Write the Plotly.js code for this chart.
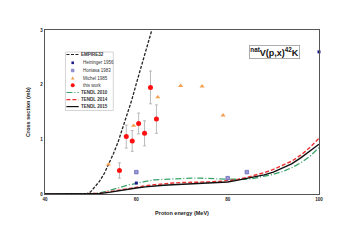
<!DOCTYPE html>
<html><head><meta charset="utf-8">
<script src="https://cdn.plot.ly/plotly-3.0.1.min.js"></script>
<style>html,body{margin:0;padding:0;background:#fff}#c{width:351px;height:248px}</style>
</head><body><div id="c"></div>
<script>
// ---- data ----
const empireE = [40, 45, 49, 50, 51, 52, 53, 54, 55, 56, 57, 58, 59, 60, 61, 62, 63, 64, 65, 66];
const empireXS = [0, 0, 0, 0.04, 0.13, 0.24, 0.38, 0.55, 0.74, 0.95, 1.2, 1.45, 1.72, 2.02, 2.3, 2.6, 2.87, 3.15, 3.45, 3.75];

const tendlE = [40, 44, 48, 50, 52, 54, 56, 58, 60, 62, 64, 66, 68, 70, 72, 74, 76, 78, 80, 82, 84, 86, 88, 90, 92, 94, 96, 98, 100];
const tendl2010 = [0, 0, 0, 0, 0.02, 0.06, 0.11, 0.16, 0.2, 0.23, 0.26, 0.27, 0.28, 0.29, 0.29, 0.29, 0.28, 0.28, 0.27, 0.27, 0.27, 0.29, 0.32, 0.36, 0.41, 0.48, 0.57, 0.69, 0.85];
const tendl2014 = [0, 0, 0, 0, 0.01, 0.04, 0.07, 0.1, 0.13, 0.15, 0.17, 0.19, 0.2, 0.21, 0.21, 0.22, 0.22, 0.23, 0.24, 0.26, 0.3, 0.34, 0.39, 0.45, 0.52, 0.6, 0.71, 0.85, 1.02];
const tendl2015 = [0, 0, 0, 0, 0.01, 0.03, 0.06, 0.09, 0.11, 0.13, 0.15, 0.16, 0.17, 0.18, 0.19, 0.2, 0.2, 0.21, 0.22, 0.25, 0.28, 0.31, 0.35, 0.4, 0.47, 0.55, 0.66, 0.78, 0.91];

const heinE = [60, 100];
const heinXS = [0.2, 2.6];
const honE = [60, 80, 84.2];
const honXS = [0.4, 0.29, 0.4];
const michE = [53.9, 59.4, 64.7, 69.7, 74.4, 79.0];
const michXS = [0.54, 1.25, 1.77, 1.98, 1.97, 1.44];
const workE = [56.3, 57.8, 59.1, 60.5, 61.8, 63.1, 64.4];
const workXS = [0.43, 1.05, 0.97, 1.29, 1.11, 1.95, 1.37];
const workErr = [0.14, 0.21, 0.19, 0.19, 0.23, 0.30, 0.26];

const xTicks = [40, 60, 80, 100];
const yTicks = [0, 1, 2, 3];
const legendNames = ['EMPIRE32', 'Heininger 1956', 'Honiasa 1983', 'Michel 1985', 'this work', 'TENDL 2010', 'TENDL 2014', 'TENDL 2015'];

// ---- layout helpers (pixel -> paper) ----
const L = 44.5, R = 319.3, T = 30, B = 194;
const px = x => (x - L) / (R - L);
const py = y => (B - y) / (B - T);

const C = {
  empire: '#222222', hein: '#1a1a8c', hon: '#6a6ab8', mich: '#f4a050',
  work: '#ff1010', t10: '#3aa36a', t14: '#ee3030', t15: '#111111'
};

const traces = [
  {x: tendlE, y: tendl2010, mode: 'lines', line: {color: C.t10, width: 1.3, dash: '6px,2px,1px,2px'}},
  {x: tendlE, y: tendl2014, mode: 'lines', line: {color: C.t14, width: 1.4, dash: '4px,2px'}},
  {x: tendlE, y: tendl2015, mode: 'lines', line: {color: C.t15, width: 1.4}},
  {x: empireE, y: empireXS, mode: 'lines', line: {color: C.empire, width: 1.3, dash: '3px,1.5px'}},
  {x: heinE, y: heinXS, mode: 'markers', cliponaxis: false, marker: {symbol: 'square', size: 3, color: C.hein}},
  {x: honE, y: honXS, mode: 'markers', cliponaxis: false, marker: {symbol: 'square', size: 3.5, color: '#9a9ad8', line: {color: C.hon, width: 0.8}}},
  {x: michE, y: michXS, mode: 'markers', cliponaxis: false, marker: {symbol: 'triangle-up', size: 4.5, color: C.mich}},
  {x: workE, y: workXS, mode: 'markers', cliponaxis: false,
   error_y: {type: 'data', array: workErr, visible: true, color: '#aaaaaa', thickness: 0.8, width: 1.5},
   marker: {symbol: 'circle', size: 5, color: C.work}}
];

// manual compact legend
const shapes = [];
const annotations = [];
shapes.push({type: 'rect', xref: 'paper', yref: 'paper', x0: px(65), x1: px(113), y0: py(52), y1: py(110.5),
  line: {color: '#cccccc', width: 0.8}, fillcolor: '#ffffff', layer: 'above'});
const rows = [54.5, 62.8, 70.5, 78, 85.2, 92.5, 99.7, 106.6];
const lx0 = 66, lx1 = 78.3, mx = 72.3;
const lineStyles = {0: {color: C.empire, dash: '3px,1.5px', width: 1.2}, 5: {color: C.t10, dash: '6px,2px,1px,2px', width: 1.2},
  6: {color: C.t14, dash: '4px,2px', width: 1.2}, 7: {color: C.t15, dash: 'solid', width: 1.2}};
rows.forEach((ry, i) => {
  if (lineStyles[i]) {
    shapes.push({type: 'line', xref: 'paper', yref: 'paper', x0: px(lx0), x1: px(lx1), y0: py(ry), y1: py(ry), line: lineStyles[i], layer: 'above'});
  }
  annotations.push({xref: 'paper', yref: 'paper', x: px(lineStyles[i] ? 79 : 80.5), y: py(ry), xanchor: 'left', yanchor: 'middle',
    text: lineStyles[i] ? '<b>' + legendNames[i] + '</b>' : legendNames[i], showarrow: false,
    font: {size: 4.5, color: '#333', family: 'Liberation Sans, Arial'}});
});
// legend markers
const s = 1.3;
shapes.push({type: 'rect', xref: 'paper', yref: 'paper', x0: px(mx - s), x1: px(mx + s), y0: py(rows[1] + s), y1: py(rows[1] - s), fillcolor: C.hein, line: {width: 0}, layer: 'above'});
shapes.push({type: 'rect', xref: 'paper', yref: 'paper', x0: px(mx - s), x1: px(mx + s), y0: py(rows[2] + s), y1: py(rows[2] - s), fillcolor: '#9a9ad8', line: {color: C.hon, width: 0.6}, layer: 'above'});
shapes.push({type: 'path', xref: 'paper', yref: 'paper', layer: 'above',
  path: `M${px(mx - 1.8)},${py(rows[3] + 1.5)} L${px(mx + 1.8)},${py(rows[3] + 1.5)} L${px(mx)},${py(rows[3] - 1.8)} Z`, fillcolor: C.mich, line: {width: 0}});
shapes.push({type: 'circle', xref: 'paper', yref: 'paper', x0: px(mx - 2), x1: px(mx + 2), y0: py(rows[4] + 2), y1: py(rows[4] - 2), fillcolor: C.work, line: {width: 0}, layer: 'above'});

// reaction label box
annotations.push({xref: 'paper', yref: 'paper', x: px(275), y: py(51.5), xanchor: 'center', yanchor: 'middle', showarrow: false,
  text: '<b><sup>nat</sup>V(p,x)<sup>42</sup>K</b>', font: {size: 9, color: '#111', family: 'Liberation Sans, Arial'},
  bordercolor: '#999', borderwidth: 0.8, borderpad: 0.5, bgcolor: '#fff'});

const layout = {
  width: 351, height: 248,
  margin: {l: L, r: 351 - R, t: T, b: 248 - B, pad: 0},
  paper_bgcolor: '#fff', plot_bgcolor: '#fff',
  showlegend: false,
  font: {family: 'Liberation Sans, Arial', size: 5, color: '#222'},
  xaxis: {range: [40, 100], tickvals: xTicks, ticktext: xTicks.map(v => '<b>' + v + '</b>'), showgrid: false, zeroline: false,
    showline: true, mirror: true, linecolor: '#555', linewidth: 1.3, ticks: '', ticklen: 0, tickfont: {size: 4.5},
    title: {text: '<b>Proton energy (MeV)</b>', font: {size: 5.5, color: '#222'}, standoff: 10}},
  yaxis: {range: [0, 3], tickvals: yTicks, ticktext: yTicks.map(v => '<b>' + v + '</b>'), showgrid: false, zeroline: false,
    showline: true, mirror: true, linecolor: '#555', linewidth: 1.3, ticks: '', ticklen: 0, tickfont: {size: 4.5},
    title: {text: '<b>Cross section (mb)</b>', font: {size: 5.5, color: '#222'}, standoff: 9}},
  shapes: shapes,
  annotations: annotations
};

Plotly.newPlot('c', traces, layout, {staticPlot: true, displayModeBar: false});
</script>
</body></html>
